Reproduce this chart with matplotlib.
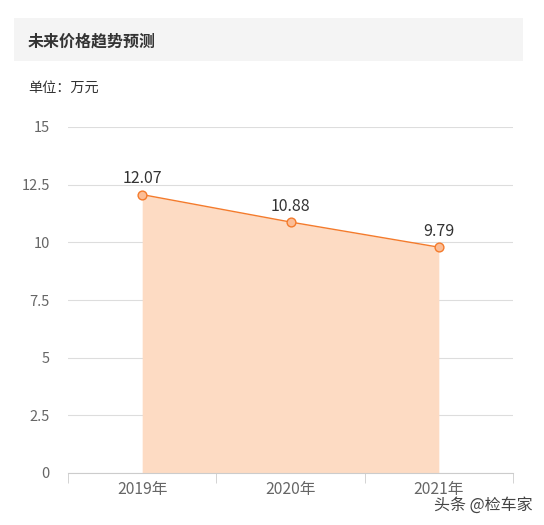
import matplotlib
matplotlib.use("Agg")
import matplotlib.pyplot as plt
from matplotlib.patches import Rectangle

plt.rcParams['font.family'] = ['Noto Sans CJK SC', 'DejaVu Sans']

years = ["2019年", "2020年", "2021年"]
prices = [12.07, 10.88, 9.79]
yticks = [0, 2.5, 5, 7.5, 10, 12.5, 15]
ytick_labels = ["0", "2.5", "5", "7.5", "10", "12.5", "15"]

fig = plt.figure(figsize=(5.44, 5.25), dpi=100)

# title band
fig.patches.append(Rectangle((14 / 544, 1 - 61 / 525), (523 - 14) / 544, 43 / 525,
                             transform=fig.transFigure, facecolor="#f4f4f4",
                             edgecolor="none", zorder=0))
fig.text(28 / 544, 1 - 42 / 525, "未来价格趋势预测", fontsize=11.5, fontweight="bold",
         color="#333333", va="center", ha="left")
fig.text(28 / 544, 1 - 88 / 525, "单位：万元", fontsize=10.2, color="#333333",
         va="center", ha="left")

ax = fig.add_axes([68 / 544, 1 - 473 / 525, (513 - 68) / 544, (473 - 127) / 525])
x = list(range(len(years)))
ax.fill_between(x, prices, 0, color="#fddbc3", linewidth=0, zorder=1)
ax.plot(x, prices, color="#f47b2c", linewidth=1, zorder=3)
ax.scatter(x, prices, s=40, facecolor="#fbbd96", edgecolor="#f47b2c", linewidth=1, zorder=4)
for xi, v in zip(x, prices):
    ax.annotate(f"{v:.2f}", (xi, v), xytext=(0, 11.5), textcoords="offset points",
                ha="center", va="center", fontsize=11.5, color="#333333")

ax.set_xlim(-0.5, len(years) - 0.5)
ax.set_ylim(0, 15)
ax.set_yticks(yticks)
ax.set_yticklabels(ytick_labels)
ax.set_xticks(x)
ax.set_xticklabels(years)
ax.set_xticks([i - 0.5 for i in range(len(years) + 1)], minor=True)
ax.tick_params(axis="x", which="major", length=0, pad=6, labelsize=11.3, labelcolor="#666666")
ax.tick_params(axis="x", which="minor", length=7, color="#cccccc", direction="out")
ax.tick_params(axis="y", length=0, pad=13, labelsize=10.5, labelcolor="#666666")
ax.grid(axis="y", color="#dddddd", linewidth=0.8, zorder=0)
ax.set_axisbelow(True)
for s in ["top", "right", "left"]:
    ax.spines[s].set_visible(False)
ax.spines["bottom"].set_color("#cccccc")

fig.text(533 / 544, 1 - 505 / 525, "头条 @检车家", fontsize=11.5, color="#444444",
         ha="right", va="center")

fig.savefig("out.png", dpi=100)
